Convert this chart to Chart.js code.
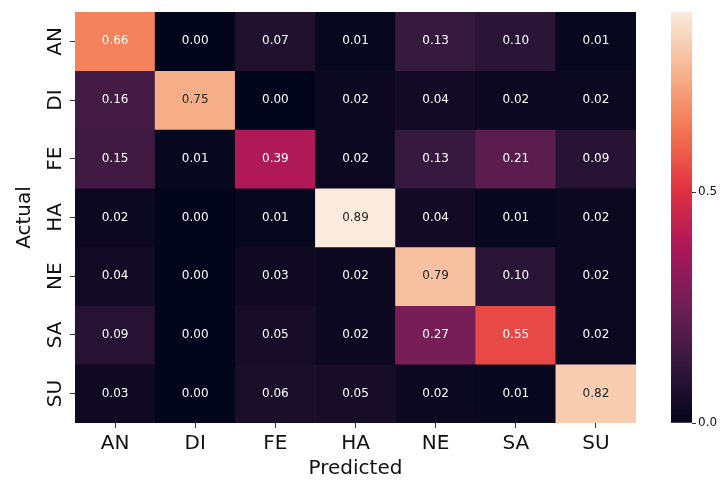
<!DOCTYPE html>
<html>
<head>
<meta charset="utf-8">
<title>Confusion matrix</title>
<script src="https://cdn.jsdelivr.net/npm/chart.js@4.4.1/dist/chart.umd.min.js"></script>
<style>
  html, body { margin: 0; padding: 0; background: #fff; }
  #wrap { position: relative; width: 720px; height: 481px; }
  #wrap canvas { position: absolute; top: 0; }
  #matrix { left: 0; }
  #cbar { left: 640px; }
</style>
</head>
<body>
<div id="wrap">
  <canvas id="matrix" width="720" height="481"></canvas>
  <canvas id="cbar" width="80" height="481"></canvas>
</div>
<script>
// classes, in the same order on both axes
const classes = ['AN', 'DI', 'FE', 'HA', 'NE', 'SA', 'SU'];

// one row of normalised counts per actual class
const rowAN = [0.66, 0.00, 0.07, 0.01, 0.13, 0.10, 0.01];
const rowDI = [0.16, 0.75, 0.00, 0.02, 0.04, 0.02, 0.02];
const rowFE = [0.15, 0.01, 0.39, 0.02, 0.13, 0.21, 0.09];
const rowHA = [0.02, 0.00, 0.01, 0.89, 0.04, 0.01, 0.02];
const rowNE = [0.04, 0.00, 0.03, 0.02, 0.79, 0.10, 0.02];
const rowSA = [0.09, 0.00, 0.05, 0.02, 0.27, 0.55, 0.02];
const rowSU = [0.03, 0.00, 0.06, 0.05, 0.02, 0.01, 0.82];
const rows = [rowAN, rowDI, rowFE, rowHA, rowNE, rowSA, rowSU];

const colorbarTicks = [0.0, 0.5];

const vmin = 0;
const vmax = Math.max(...rows.flat());

// "rocket" colormap sampled at a few stops, linearly interpolated
const rocket = [
  [0.000, [3, 5, 26]],
  [0.143, [53, 25, 62]],
  [0.286, [112, 31, 87]],
  [0.429, [173, 23, 89]],
  [0.571, [225, 51, 66]],
  [0.714, [243, 118, 81]],
  [0.857, [246, 180, 143]],
  [1.000, [250, 235, 221]]
];

function rocketRGB(t) {
  t = Math.min(1, Math.max(0, t));
  for (let i = 1; i < rocket.length; i++) {
    const [t1, c1] = rocket[i];
    const [t0, c0] = rocket[i - 1];
    if (t <= t1) {
      const f = (t - t0) / (t1 - t0);
      return c0.map((v, k) => Math.round(v + (c1[k] - v) * f));
    }
  }
  return rocket[rocket.length - 1][1];
}

const norm = v => (v - vmin) / (vmax - vmin);
const cssRGB = c => `rgb(${c[0]},${c[1]},${c[2]})`;

// dark text on light cells, white elsewhere
function textColor(c) {
  const lin = c.map(v => {
    v /= 255;
    return v <= 0.03928 ? v / 12.92 : Math.pow((v + 0.055) / 1.055, 2.4);
  });
  const lum = 0.2126 * lin[0] + 0.7152 * lin[1] + 0.0722 * lin[2];
  return lum > 0.408 ? '#262626' : '#ffffff';
}

Chart.defaults.font.family = '"DejaVu Sans", sans-serif';
Chart.defaults.color = '#222';

// each actual class is a floating bar spanning [r, r+1] in column j
const datasets = rows.map((row, r) => ({
  label: classes[r],
  data: row.map((v, j) => ({ x: j + 0.5, y: [r, r + 1] })),
  values: row,
  backgroundColor: row.map(v => cssRGB(rocketRGB(norm(v)))),
  borderWidth: 0,
  barPercentage: 1,
  categoryPercentage: 1
}));

const cellLabels = {
  id: 'cellLabels',
  afterDatasetsDraw(chart) {
    const ctx = chart.ctx;
    ctx.save();
    ctx.font = '12px "DejaVu Sans", sans-serif';
    ctx.textAlign = 'center';
    ctx.textBaseline = 'middle';
    chart.data.datasets.forEach((ds, i) => {
      chart.getDatasetMeta(i).data.forEach((bar, j) => {
        const v = ds.values[j];
        ctx.fillStyle = textColor(rocketRGB(norm(v)));
        ctx.fillText(v.toFixed(2), bar.x, (bar.y + bar.base) / 2);
      });
    });
    ctx.restore();
  }
};

// tick marks only, at the centre of each cell
const tickGrid = { display: true, offset: false, drawOnChartArea: false, drawTicks: true, tickLength: 5, tickColor: '#333', tickWidth: 1 };
const centreTicks = scale => {
  scale.ticks = classes.map((_, i) => ({ value: i + 0.5 }));
};

new Chart(document.getElementById('matrix'), {
  type: 'bar',
  data: { datasets },
  plugins: [cellLabels],
  options: {
    responsive: false,
    animation: false,
    grouped: false,
    layout: { padding: { top: 12, right: 84, left: 0, bottom: 0 } },
    plugins: { legend: { display: false }, tooltip: { enabled: false } },
    scales: {
      x: {
        type: 'linear',
        min: 0,
        max: classes.length,
        offset: false,
        grid: tickGrid,
        border: { display: false },
        afterBuildTicks: centreTicks,
        ticks: { font: { size: 20 }, padding: 4, color: '#111', maxRotation: 0, callback: (v, i) => classes[i] },
        title: { display: true, text: 'Predicted', font: { size: 20 }, color: '#111', padding: { top: 0, bottom: 0 } },
        afterFit(scale) { scale.height = 58; }
      },
      y: {
        type: 'linear',
        min: 0,
        max: classes.length,
        reverse: true,
        grid: tickGrid,
        border: { display: false },
        afterBuildTicks: centreTicks,
        ticks: {
          font: { size: 20 },
          color: '#111',
          padding: 0,
          crossAlign: 'center',
          minRotation: 90,
          maxRotation: 90,
          callback: (v, i) => classes[i]
        },
        title: { display: true, text: 'Actual', font: { size: 20 }, color: '#111', padding: { top: 13, bottom: 0 } },
        afterFit(scale) { scale.width = 75; }
      }
    }
  }
});

// colour bar: a single floating bar from vmin to vmax filled with the colormap
function colorbarFill(context) {
  const { ctx, chartArea } = context.chart;
  if (!chartArea) return null;
  const g = ctx.createLinearGradient(0, chartArea.bottom, 0, chartArea.top);
  for (let i = 0; i <= 40; i++) {
    g.addColorStop(i / 40, cssRGB(rocketRGB(i / 40)));
  }
  return g;
}

new Chart(document.getElementById('cbar'), {
  type: 'bar',
  data: {
    labels: [''],
    datasets: [{
      data: [[vmin, vmax]],
      backgroundColor: colorbarFill,
      borderWidth: 0,
      barPercentage: 1,
      categoryPercentage: 1
    }]
  },
  options: {
    responsive: false,
    animation: false,
    layout: { padding: { top: 12, right: 0, left: 31, bottom: 58 } },
    plugins: { legend: { display: false }, tooltip: { enabled: false } },
    scales: {
      x: { display: false },
      y: {
        position: 'right',
        min: vmin,
        max: vmax,
        grid: { display: true, drawOnChartArea: false, drawTicks: true, tickLength: 4, tickColor: '#333', tickWidth: 1 },
        border: { display: false },
        afterBuildTicks(scale) {
          scale.ticks = colorbarTicks.map(v => ({ value: v }));
        },
        ticks: { font: { size: 12 }, color: '#111', padding: 2, callback: v => v.toFixed(1) },
        afterFit(scale) { scale.width = 28; }
      }
    }
  }
});
</script>
</body>
</html>
